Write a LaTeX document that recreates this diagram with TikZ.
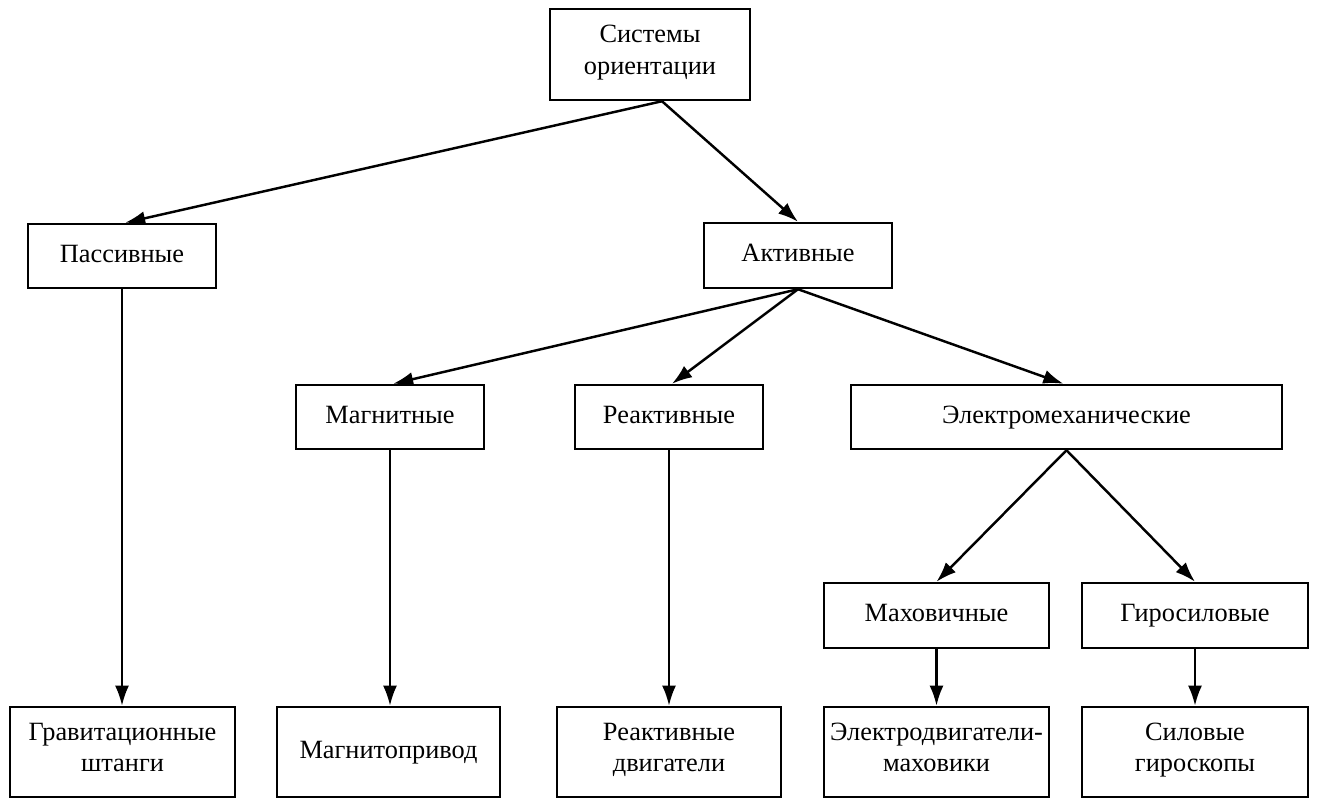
\documentclass[tikz,border=0pt]{standalone}
\usepackage{fontspec}
\setmainfont{Liberation Serif}
\usetikzlibrary{arrows.meta}

\begin{document}
\begin{tikzpicture}[x=0.02cm,y=-0.02cm,line width=1.4pt,
  box/.style={draw,rectangle,align=center,inner sep=0pt,font=\fontsize{15}{18}\selectfont,
    execute at begin node=\strut,execute at end node=\strut},
  narrow/.style={box,minimum width=3.76cm,minimum height=1.28cm},
  mid/.style={box,minimum width=4.5cm,minimum height=1.3cm},
  leaf/.style={box,minimum width=4.5cm,minimum height=1.8cm},
  arr/.style={-{Latex[length=11.5pt,width=8pt]}}]
  \useasboundingbox (0,0) rectangle (1317,798);
  % top levels
  \node[box,minimum width=4cm,minimum height=1.82cm] (sys) at (650,54.5) {Системы\\ориентации};
  \node[narrow] (pas) at (122,256) {Пассивные};
  \node[narrow,minimum height=1.3cm] (akt) at (798,255.5) {Активные};
  \node[narrow] (mag) at (390,417) {Магнитные};
  \node[narrow] (rea) at (669,417) {Реактивные};
  \node[narrow,minimum width=8.62cm] (elm) at (1066.5,417) {Электромеханические};
  \node[mid] (mah) at (936.5,615.5) {Маховичные};
  \node[mid,minimum width=4.52cm] (gir) at (1195,615.5) {Гиросиловые};
  % bottom row
  \node[leaf] (grav) at (122.5,752) {Гравитационные\\штанги};
  \node[leaf,minimum width=4.46cm] (mprv) at (388.5,752) {Магнитопривод};
  \node[leaf,minimum width=4.48cm] (rdv) at (669,752) {Реактивные\\двигатели};
  \node[leaf] (edm) at (936.5,752) {Электродвигатели-\\маховики};
  \node[leaf,minimum width=4.52cm] (sgr) at (1195,752) {Силовые\\гироскопы};
  % connectors
  \draw[arr] ([xshift=0.24cm]sys.south) -- ([xshift=0.06cm]pas.north);
  \draw[arr] ([xshift=0.24cm]sys.south) -- (akt.north);
  \draw[arr] (akt.south) -- ([xshift=0.06cm]mag.north);
  \draw[arr] (akt.south) -- ([xshift=0.06cm]rea.north);
  \draw[arr] (akt.south) -- ([xshift=-0.06cm]elm.north);
  \draw[arr] (elm.south) -- (mah.north);
  \draw[arr] (elm.south) -- (gir.north);
  \draw[arr] (pas.south) -- (pas.south |- grav.north);
  \draw[arr] (mag.south) -- (mag.south |- mprv.north);
  \draw[arr] (rea.south) -- (rea.south |- rdv.north);
  \draw[arr] (mah.south) -- (mah.south |- edm.north);
  \draw[arr] (gir.south) -- (gir.south |- sgr.north);
\end{tikzpicture}
\end{document}
